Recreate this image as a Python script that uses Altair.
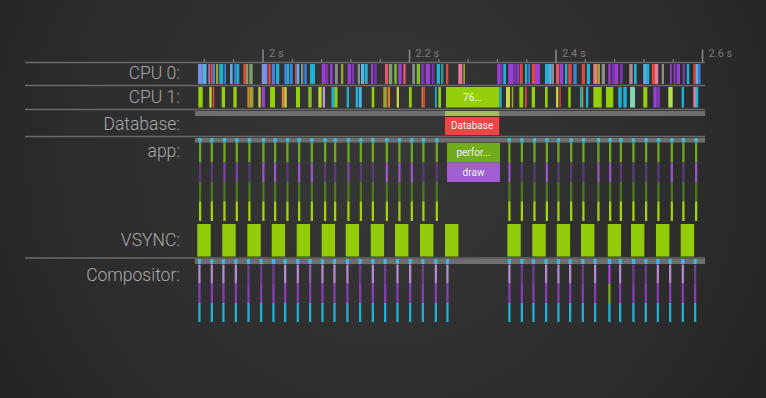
import altair as alt
import pandas as pd

W, H = 766, 398
MS_PER_PX = 1.365
X_DOMAIN = [2000 - 263 * MS_PER_PX, 2000 + (W - 263) * MS_PER_PX]

# ---------------- data (times in ms) ----------------
tick_major = [2000, 2200, 2400, 2600]
tick_major_labels = ["2 s", "2.2 s", "2.4 s", "2.6 s"]
tick_minor = [1920, 1960, 2040, 2080, 2120, 2160, 2240, 2280, 2320, 2360,
              2440, 2480, 2520, 2560]

track_labels = ["CPU 0:", "CPU 1:", "Database:", "app:", "VSYNC:", "Compositor:"]
trace_span = [1907.0, 2603.5]

cpu0_start = [1911.3, 1917.4, 1925.3, 1928.6, 1931.3, 1935.8, 1940.3, 1947.2, 1955.0, 1960.8,
              1964.1, 1973.1, 1976.8, 1981.3, 1998.2, 2007.2, 2011.9, 2017.7, 2029.1, 2032.4,
              2036.9, 2043.7, 2046.0, 2051.9, 2056.4, 2064.2, 2080.1, 2084.6, 2091.5, 2098.3,
              2106.5, 2115.6, 2121.1, 2129.3, 2133.8, 2139.2, 2147.4, 2151.9, 2166.5, 2172.0,
              2179.2, 2184.7, 2191.5, 2203.8, 2209.8, 2215.7, 2222.1, 2230.3, 2237.1, 2243.0,
              2249.8, 2266.6, 2273.4, 2319.8, 2324.5, 2328.0, 2334.8, 2341.7, 2347.1, 2350.8,
              2357.6, 2362.1, 2366.8, 2371.3, 2384.9, 2389.4, 2394.1, 2400.0, 2405.4, 2412.2,
              2416.7, 2423.6, 2435.0, 2441.9, 2450.9, 2456.3, 2462.3, 2471.3, 2476.0, 2480.5,
              2487.3, 2500.0, 2506.4, 2519.1, 2523.8, 2530.6, 2535.1, 2544.2, 2555.6, 2560.1,
              2564.7, 2572.9, 2578.4, 2587.4, 2591.0, 2594.2]
cpu0_end = [1917.4, 1922.9, 1928.1, 1931.3, 1934.5, 1939.0, 1945.8, 1949.5, 1958.6, 1964.1,
            1967.6, 1976.8, 1979.9, 1985.9, 2005.9, 2010.5, 2016.4, 2022.2, 2032.4, 2035.9,
            2040.5, 2046.0, 2049.5, 2055.0, 2059.7, 2071.0, 2084.6, 2089.1, 2095.1, 2102.0,
            2109.6, 2120.1, 2124.6, 2132.4, 2138.3, 2142.9, 2150.6, 2155.2, 2171.0, 2176.5,
            2182.5, 2189.3, 2194.8, 2207.5, 2214.3, 2220.2, 2228.0, 2233.8, 2241.6, 2246.1,
            2252.9, 2272.0, 2275.7, 2324.5, 2327.2, 2331.7, 2341.7, 2346.3, 2349.9, 2354.5,
            2360.8, 2364.5, 2371.3, 2378.1, 2389.4, 2394.1, 2397.2, 2404.5, 2409.9, 2415.4,
            2421.4, 2428.2, 2439.5, 2446.4, 2456.3, 2460.0, 2466.8, 2474.6, 2480.5, 2485.0,
            2491.0, 2504.6, 2510.1, 2523.8, 2527.3, 2535.1, 2539.6, 2547.4, 2557.9, 2563.7,
            2569.2, 2576.0, 2581.9, 2591.0, 2594.2, 2597.2]
cpu0_color = ["periwinkle", "skyblue", "mauve", "red", "blue", "olive", "cyan", "blue", "skyblue", "blue",
              "cyan", "red", "graygreen", "graygreen", "periwinkle", "red", "blue", "cyan", "blue", "cyan",
              "blue", "red", "skyblue", "gray", "blue", "cyan", "purple", "violet", "purple", "gray",
              "olive", "purple", "violet", "gray", "skyblue", "cyan", "purple", "violet", "pinkred", "graygreen",
              "green", "purple", "pinkred", "gray", "green", "violet", "purple", "violet", "cyan", "teal",
              "red", "pink", "olive", "purple", "violet", "cyan", "purple", "violet", "purple", "red",
              "cyan", "blue", "red", "purple", "cyan", "skyblue", "gray", "pinkred", "purple", "cyan",
              "red", "blue", "red", "cyan", "salmon", "olive", "gray", "purple", "violet", "purple",
              "violet", "graypink", "cyan", "skyblue", "cyan", "red", "pink", "gray", "purple", "violet",
              "purple", "violet", "cyan", "red", "skyblue", "blue"]

cpu1_start = [1911.7, 1926.7, 1931.3, 1943.6, 1959.5, 1978.6, 1981.3, 1993.6, 1998.2, 2009.6,
              2025.5, 2029.1, 2045.0, 2061.8, 2075.5, 2081.5, 2093.5, 2097.6, 2114.3, 2126.5,
              2131.0, 2148.4, 2164.2, 2170.2, 2182.5, 2199.3, 2216.6, 2218.8, 2234.8, 2239.3,
              2249.8, 2322.5, 2331.7, 2339.5, 2349.9, 2357.6, 2366.8, 2384.9, 2400.0, 2404.5,
              2416.7, 2432.7, 2435.0, 2440.9, 2450.9, 2468.2, 2485.0, 2491.8, 2501.0, 2519.1,
              2532.8, 2537.4, 2553.2, 2571.5, 2587.4, 2591.0]
cpu1_end = [1917.7, 1930.0, 1933.5, 1948.1, 1964.1, 1981.3, 1986.8, 1996.9, 2002.7, 2016.4,
            2029.1, 2032.4, 2050.5, 2066.5, 2080.1, 2084.6, 2097.6, 2101.7, 2117.4, 2130.1,
            2134.7, 2151.9, 2168.9, 2173.4, 2185.6, 2203.0, 2218.8, 2221.1, 2237.1, 2243.0,
            2322.5, 2325.8, 2337.2, 2341.7, 2355.3, 2360.0, 2371.3, 2388.6, 2403.1, 2406.4,
            2420.0, 2435.0, 2437.2, 2444.0, 2462.3, 2478.2, 2489.6, 2496.5, 2507.8, 2524.6,
            2537.4, 2541.9, 2559.2, 2574.7, 2591.0, 2594.2]
cpu1_color = ["lime", "yellowgreen", "red", "lime", "lime", "orange", "olive", "yellowgreen", "purple", "lime",
              "orange", "yellow", "lime", "green", "yellowgreen", "lavender", "cyan", "lime", "cyan", "cyan",
              "skyblue", "lime", "olive", "orange", "yellow", "lime", "orange", "red", "cyan", "lime",
              "lime", "cyan", "yellow", "olive", "lime", "red", "lime", "lime", "yellow", "red",
              "lime", "cyan", "olive", "cyan", "lime", "lime", "cyan", "cyan", "mint", "lime",
              "purple", "violet", "lightlime", "cyan", "pink", "cyan"]
cpu1_block_label = ["76..."]
cpu1_block_index = 30

db_start, db_end, db_label = [2248.4], [2322.5], ["Database"]
perf_start, perf_end, perf_label = [2251.2], [2323.5], ["perfor..."]
draw_start, draw_end, draw_label = [2251.2], [2323.5], ["draw"]

vsync_start = [1910.3, 1944.4, 1978.6, 2011.9, 2046.0, 2080.1, 2112.9, 2147.0, 2180.2, 2214.3,
               2248.4, 2333.5, 2367.6, 2400.9, 2434.1, 2470.5, 2502.3, 2536.4, 2570.2]
vsync_end = [1928.6, 1962.7, 1996.9, 2030.2, 2064.3, 2098.4, 2131.2, 2165.3, 2198.5, 2232.6,
             2266.7, 2351.8, 2385.9, 2419.2, 2452.4, 2488.8, 2520.6, 2554.7, 2588.5]

app_start = [1912.6, 1928.6, 1945.8, 1962.7, 1979.9, 1999.0, 2015.0, 2031.8, 2047.8, 2065.1,
             2083.3, 2096.9, 2115.1, 2132.0, 2148.4, 2167.5, 2184.7, 2201.6, 2217.4, 2235.7,
             2334.8, 2351.8, 2369.0, 2385.9, 2401.7, 2419.1, 2435.8, 2456.3, 2472.3, 2486.9,
             2504.1, 2521.4, 2538.2, 2556.5, 2572.3, 2589.7]
app_dur = 3.1
app_draw_tone = ["p_faint", "p_faint", "p_mid", "p_mid", "p_faint", "p_strong", "p_strong", "p_faint",
                 "p_strong", "p_strong", "p_faint", "p_faint", "p_mid", "p_faint", "p_faint", "p_strong",
                 "p_strong", "p_strong", "p_faint", "p_faint",
                 "p_strong", "p_faint", "p_faint", "p_strong", "p_faint", "p_faint", "p_faint", "p_strong",
                 "p_strong", "p_faint", "p_faint", "p_faint", "p_faint", "p_strong", "p_faint", "p_strong"]

comp_start = [1911.7, 1928.6, 1944.4, 1961.4, 1978.6, 1995.9, 2012.7, 2028.7, 2046.0, 2062.8,
              2079.6, 2096.0, 2113.7, 2131.0, 2148.4, 2165.2, 2182.0, 2199.3, 2216.6, 2234.4,
              2250.2, 2334.8, 2351.8, 2367.6, 2384.9, 2401.7, 2417.7, 2435.0, 2451.8, 2471.3,
              2485.9, 2504.1, 2521.0, 2537.4, 2554.2, 2571.5, 2588.3]
comp_dur = 3.1
comp_top_tone = ["c_light", "c_light", "c_light", "c_light", "c_dim", "c_dim", "c_dim", "c_light",
                 "c_light", "c_mid", "c_light", "c_light", "c_light", "c_dim", "c_light", "c_dim",
                 "c_light", "c_light", "c_dim", "c_light", "c_light",
                 "c_light", "c_dim", "c_dim", "c_light", "c_light", "c_light", "c_dim", "c_light",
                 "c_bright", "c_light", "c_dim", "c_dim", "c_light", "c_light", "c_light", "c_dim"]
comp_mid_tone = ["c_purple"] * 29 + ["c_green"] + ["c_purple"] * 7

# ---------------- style / layout ----------------
PALETTE = {
    "periwinkle": "#7b8fe0", "skyblue": "#55b4ea", "blue": "#4083dc", "cyan": "#20b2d6",
    "teal": "#2a9d9a", "mauve": "#b0709e", "red": "#e2463e", "pinkred": "#e2566b",
    "pink": "#e679a0", "salmon": "#e57f78", "olive": "#a1a13a", "graygreen": "#7f9f6d",
    "green": "#7fbf2a", "lime": "#94cf0c", "lightlime": "#b4e04a", "yellowgreen": "#b7d62e",
    "yellow": "#cbd54a", "orange": "#d8822e", "purple": "#9b3fd4", "violet": "#7a36ad",
    "lavender": "#b89ad8", "gray": "#8c8c8c", "graypink": "#b08a98", "mint": "#7fd6b0",
    "p_faint": "#5d3a78", "p_mid": "#7b46a3", "p_strong": "#9a56c8",
    "c_light": "#b48ad2", "c_mid": "#8d5cb0", "c_dim": "#6c3f8f", "c_bright": "#a444d8",
    "c_purple": "#8a3cb8", "c_green": "#7fae22",
}
CS = alt.Scale(domain=list(PALETTE.keys()), range=list(PALETTE.values()))
XS = alt.Scale(domain=X_DOMAIN, nice=False, zero=False)

ROWS = {
    "cpu0": (64, 84), "cpu1": (87, 107.5), "db_state": (111, 116), "db": (117, 135),
    "app_state": (138, 142.5), "app0": (143, 162.5), "app1": (162.5, 182),
    "app2": (182, 201.5), "app3": (201.5, 221), "vsync": (224, 256.5),
    "comp_state": (259, 264), "comp0": (264.5, 283.5), "comp1": (283.5, 303), "comp2": (303, 322),
}
SEPARATORS = [62.5, 85.5, 109.5, 136.5, 258]
LABEL_Y = [74, 97.5, 125, 152, 241, 275.5]
FONT = "Roboto"


def slices(df, row, color=None, opacity=1.0):
    y0, y1 = ROWS[row]
    enc = dict(x=alt.X("s:Q", scale=XS, axis=None), x2="e:Q",
               y=alt.value(y0), y2=alt.value(y1))
    if color is None:
        enc["color"] = alt.Color("c:N", scale=CS, legend=None)
    else:
        enc["color"] = alt.value(color)
    return alt.Chart(df).mark_rect(opacity=opacity).encode(**enc)


def block_text(df, yc, size=10, color="#f2f2f2"):
    return alt.Chart(df).transform_calculate(m="(datum.s + datum.e) / 2").mark_text(
        font=FONT, fontSize=size, color=color, align="center", baseline="middle"
    ).encode(x=alt.X("m:Q", scale=XS, axis=None), y=alt.value(yc), text="t:N")


# background with soft radial vignette
bg = alt.Chart(pd.DataFrame({"k": [0]})).mark_rect(
    fill=alt.RadialGradient(
        gradient="radial",
        stops=[alt.GradientStop(color="#373737", offset=0),
               alt.GradientStop(color="#2c2c2c", offset=0.55),
               alt.GradientStop(color="#1c1c1c", offset=1)],
        x1=0.5, y1=0.45, r1=0, x2=0.5, y2=0.45, r2=0.75),
    strokeWidth=0,
).encode(x=alt.value(0), x2=alt.value(W), y=alt.value(0), y2=alt.value(H))

sep = alt.Chart(pd.DataFrame({"y": SEPARATORS})).mark_rule(color="#6a6a6a", strokeWidth=1.5).encode(
    x=alt.value(25), x2=alt.value(705), y=alt.Y("y:Q", scale=None))

span_df = pd.DataFrame({"s": [trace_span[0]], "e": [trace_span[1]], "c": ["gray"]})
state_bars = [slices(span_df, r, color="#6e6e6e") for r in ("db_state", "app_state", "comp_state")]

cpu0_df = pd.DataFrame({"s": cpu0_start, "e": cpu0_end, "c": cpu0_color})
cpu1_df = pd.DataFrame({"s": cpu1_start, "e": cpu1_end, "c": cpu1_color})
cpu1_lbl = pd.DataFrame({"s": [cpu1_start[cpu1_block_index]], "e": [cpu1_end[cpu1_block_index]],
                         "t": cpu1_block_label})

db_df = pd.DataFrame({"s": db_start, "e": db_end, "t": db_label})
perf_df = pd.DataFrame({"s": perf_start, "e": perf_end, "t": perf_label})
draw_df = pd.DataFrame({"s": draw_start, "e": draw_end, "t": draw_label})

vs_df = pd.DataFrame({"s": vsync_start, "e": vsync_end})

app_df = pd.DataFrame({"s": app_start, "e": [a + app_dur for a in app_start], "c": app_draw_tone})
app_run = pd.DataFrame({"s": [a - 0.6 for a in app_start], "e": [a + app_dur + 0.6 for a in app_start]})
comp_top = pd.DataFrame({"s": comp_start, "e": [a + comp_dur for a in comp_start], "c": comp_top_tone})
comp_mid = pd.DataFrame({"s": comp_start, "e": [a + comp_dur for a in comp_start], "c": comp_mid_tone})
comp_run = pd.DataFrame({"s": [a - 0.6 for a in comp_start], "e": [a + comp_dur + 0.6 for a in comp_start]})

layers = [bg, sep] + state_bars + [
    slices(db_df, "db_state", color="#a9b85a"),
    slices(app_run, "app_state", color="#41b9d9"),
    slices(comp_run, "comp_state", color="#41b9d9"),
    slices(cpu0_df, "cpu0"),
    slices(cpu1_df, "cpu1"),
    block_text(cpu1_lbl, 97.5),
    slices(db_df, "db", color="#ef4545"),
    block_text(db_df, 126),
    slices(app_df, "app0", color="#6fab1c"),
    slices(app_df, "app1"),
    slices(app_df, "app2", color="#4d7a1b"),
    slices(app_df, "app3", color="#a2d40c"),
    slices(perf_df, "app0", color="#72ac1c"),
    slices(draw_df, "app1", color="#a05ed2"),
    block_text(perf_df, 153),
    block_text(draw_df, 172.5),
    slices(vs_df, "vsync", color="#93cc0b"),
    slices(comp_top, "comp0"),
    slices(comp_mid, "comp1"),
    slices(comp_top.assign(c="cyan"), "comp2"),
]

labels = alt.Chart(pd.DataFrame({"t": track_labels, "y": LABEL_Y})).mark_text(
    font=FONT, fontSize=17.5, fontWeight=300, color="#aaaaaa", align="right", baseline="middle"
).encode(x=alt.value(180), y=alt.Y("y:Q", scale=None), text="t:N")

major = alt.Chart(pd.DataFrame({"s": tick_major, "t": tick_major_labels}))
major_ticks = major.mark_rule(color="#8a8a8a", strokeWidth=1.5).encode(
    x=alt.X("s:Q", scale=XS, axis=None), y=alt.value(49.5), y2=alt.value(62))
major_text = major.mark_text(
    font=FONT, fontSize=11, color="#7c7c7c", align="left", baseline="middle", dx=6
).encode(x=alt.X("s:Q", scale=XS, axis=None), y=alt.value(54), text="t:N")
minor_ticks = alt.Chart(pd.DataFrame({"s": tick_minor})).mark_rule(color="#8a8a8a", strokeWidth=1).encode(
    x=alt.X("s:Q", scale=XS, axis=None), y=alt.value(59), y2=alt.value(62))

chart = alt.layer(*layers, labels, major_ticks, major_text, minor_ticks).properties(
    width=W, height=H, padding=0, autosize="none", background="#262626"
).configure_view(stroke=None)

chart.save("out.html", embed_options={"renderer": "svg", "actions": False})
